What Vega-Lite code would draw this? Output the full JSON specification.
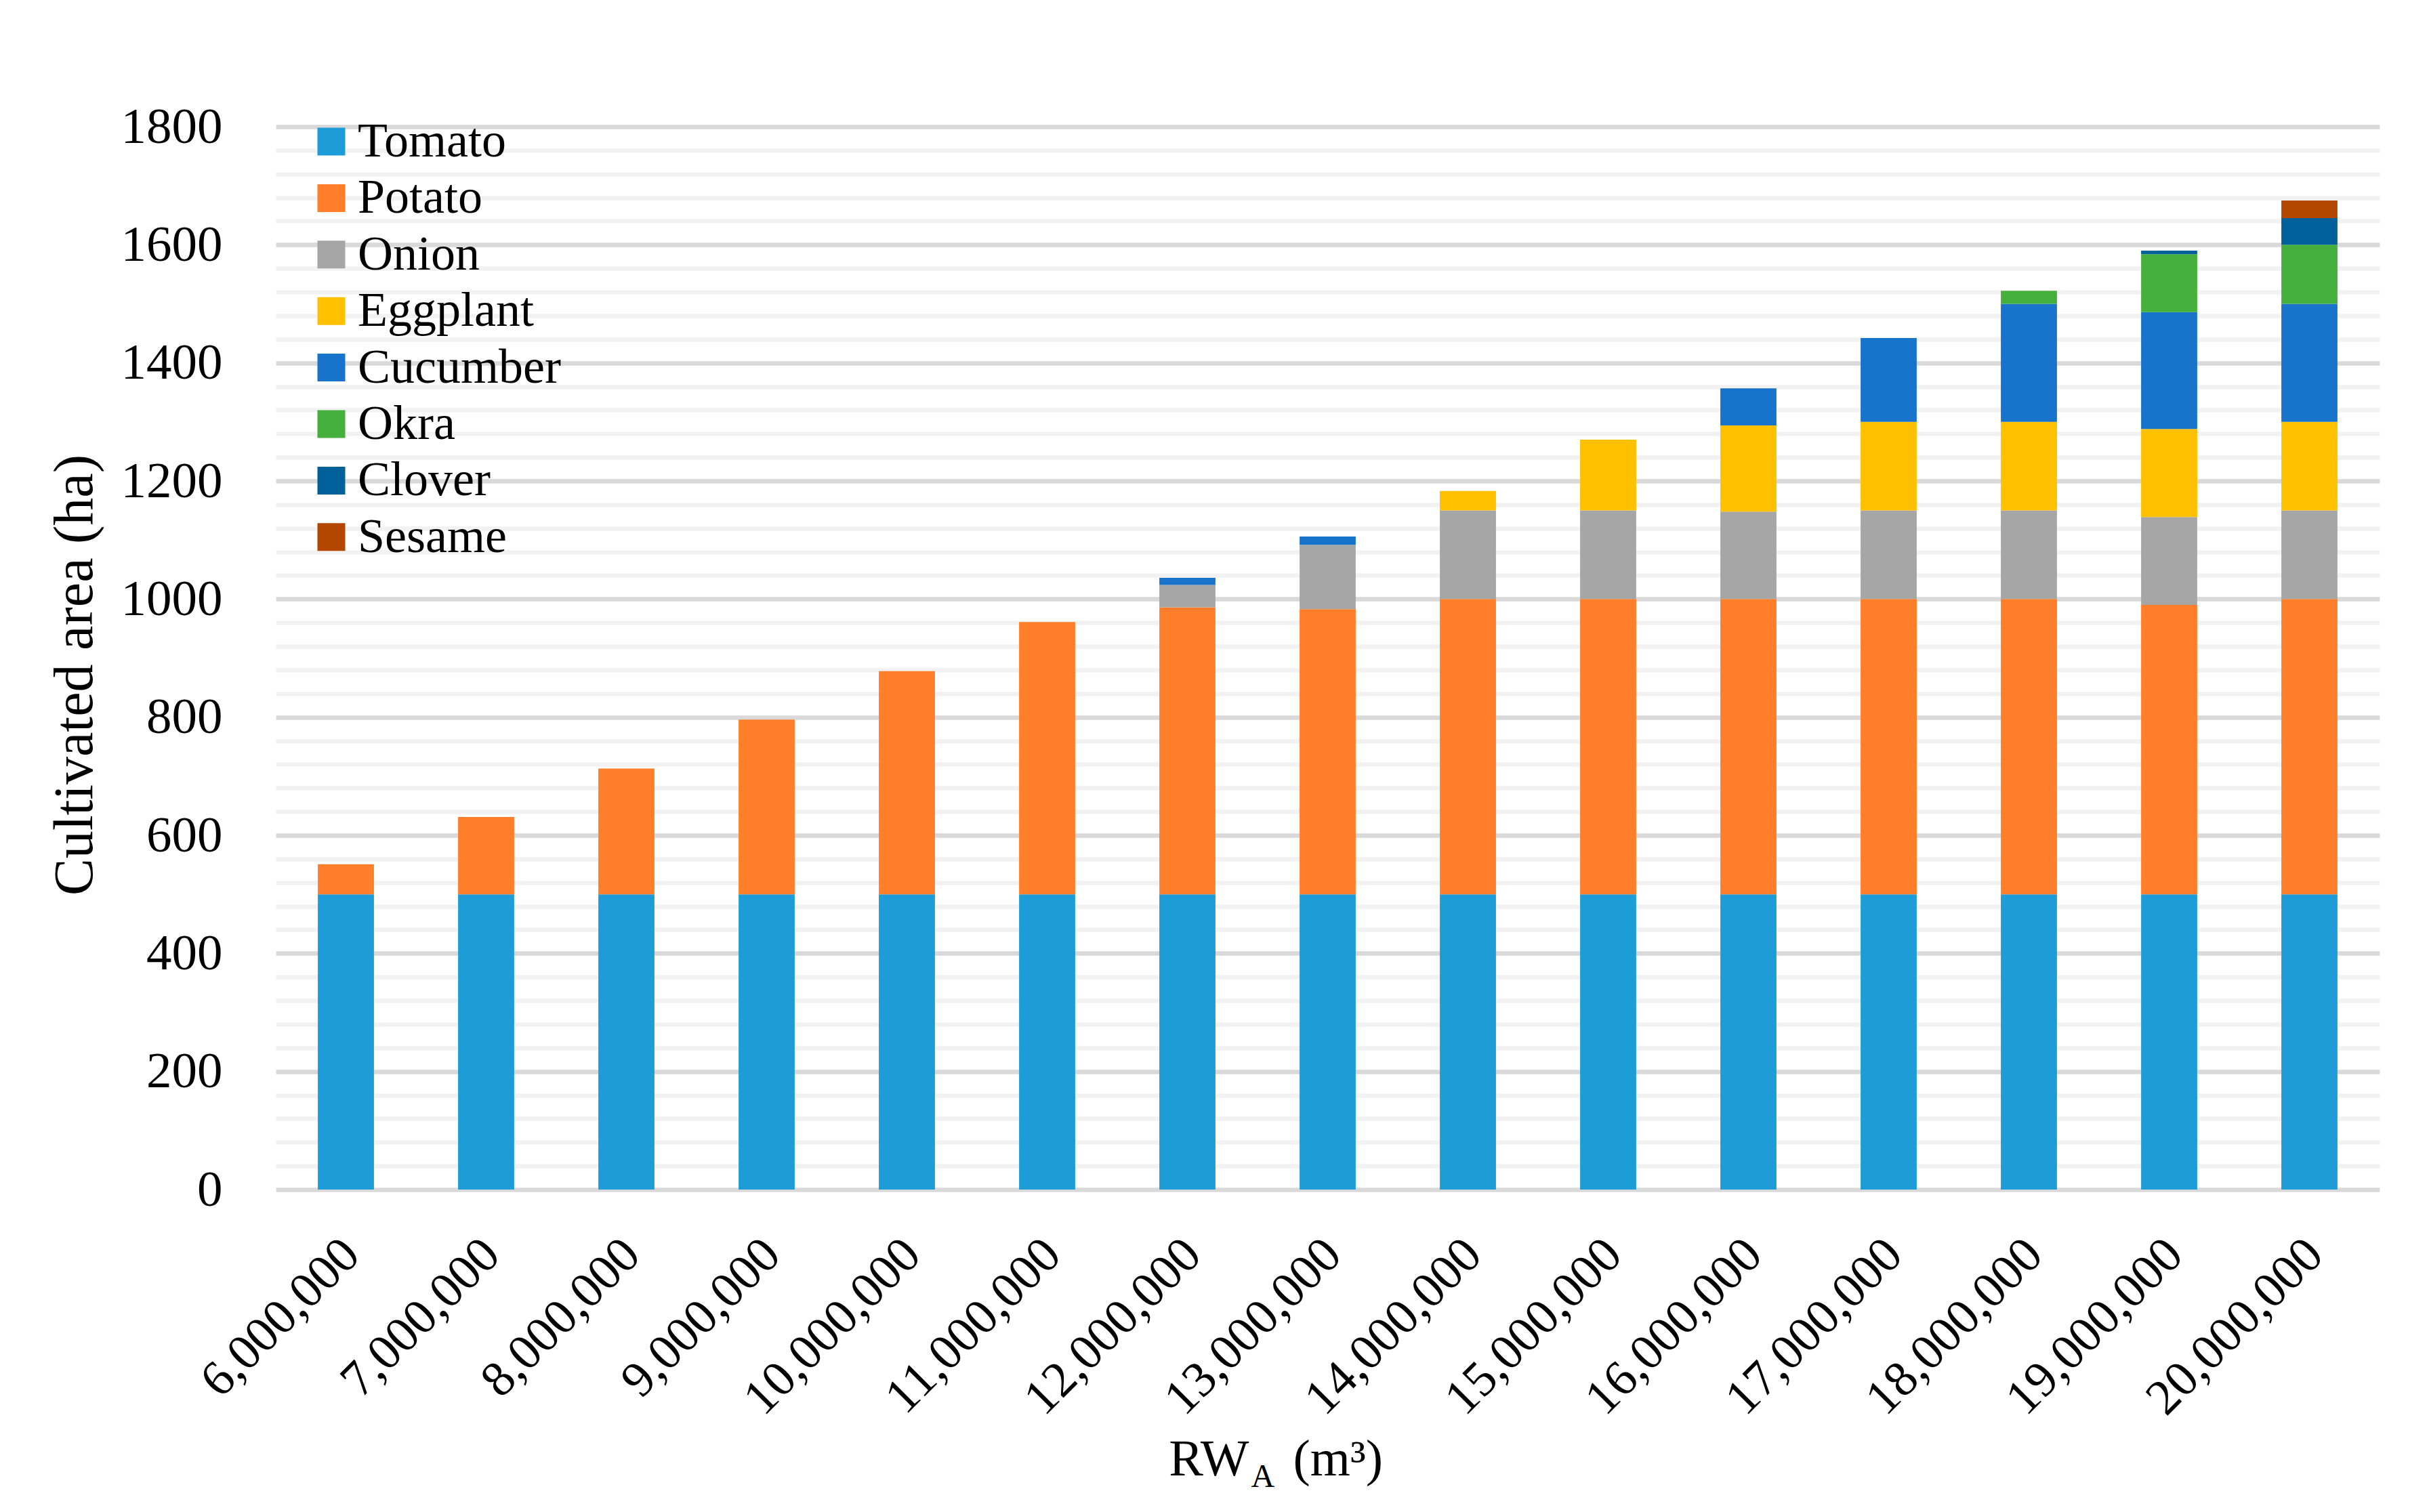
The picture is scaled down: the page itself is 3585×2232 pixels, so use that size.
{
  "$schema": "https://vega.github.io/schema/vega-lite/v6.json",
  "autosize": "none",
  "width": 3105,
  "height": 1569,
  "padding": {"left": 407, "top": 187, "right": 73, "bottom": 476},
  "background": "white",
  "config": {
    "font": "Liberation Serif",
    "view": {"stroke": null},
    "axis": {"labelColor": "black", "titleColor": "black", "titleFontWeight": "normal", "labelFont": "Liberation Serif", "titleFont": "Liberation Serif"}
  },
  "data": {
    "values": [
      {"rwa": 6000000, "crop": "Tomato", "k": 1, "area": 500},
      {"rwa": 6000000, "crop": "Potato", "k": 2, "area": 51},
      {"rwa": 7000000, "crop": "Tomato", "k": 1, "area": 500},
      {"rwa": 7000000, "crop": "Potato", "k": 2, "area": 131},
      {"rwa": 8000000, "crop": "Tomato", "k": 1, "area": 500},
      {"rwa": 8000000, "crop": "Potato", "k": 2, "area": 213},
      {"rwa": 9000000, "crop": "Tomato", "k": 1, "area": 500},
      {"rwa": 9000000, "crop": "Potato", "k": 2, "area": 296},
      {"rwa": 10000000, "crop": "Tomato", "k": 1, "area": 500},
      {"rwa": 10000000, "crop": "Potato", "k": 2, "area": 378},
      {"rwa": 11000000, "crop": "Tomato", "k": 1, "area": 500},
      {"rwa": 11000000, "crop": "Potato", "k": 2, "area": 461},
      {"rwa": 12000000, "crop": "Tomato", "k": 1, "area": 500},
      {"rwa": 12000000, "crop": "Potato", "k": 2, "area": 486},
      {"rwa": 12000000, "crop": "Onion", "k": 3, "area": 38},
      {"rwa": 12000000, "crop": "Cucumber", "k": 5, "area": 12},
      {"rwa": 13000000, "crop": "Tomato", "k": 1, "area": 500},
      {"rwa": 13000000, "crop": "Potato", "k": 2, "area": 483},
      {"rwa": 13000000, "crop": "Onion", "k": 3, "area": 109},
      {"rwa": 13000000, "crop": "Cucumber", "k": 5, "area": 14},
      {"rwa": 14000000, "crop": "Tomato", "k": 1, "area": 500},
      {"rwa": 14000000, "crop": "Potato", "k": 2, "area": 500},
      {"rwa": 14000000, "crop": "Onion", "k": 3, "area": 150},
      {"rwa": 14000000, "crop": "Eggplant", "k": 4, "area": 33},
      {"rwa": 15000000, "crop": "Tomato", "k": 1, "area": 500},
      {"rwa": 15000000, "crop": "Potato", "k": 2, "area": 500},
      {"rwa": 15000000, "crop": "Onion", "k": 3, "area": 150},
      {"rwa": 15000000, "crop": "Eggplant", "k": 4, "area": 120},
      {"rwa": 16000000, "crop": "Tomato", "k": 1, "area": 500},
      {"rwa": 16000000, "crop": "Potato", "k": 2, "area": 500},
      {"rwa": 16000000, "crop": "Onion", "k": 3, "area": 148},
      {"rwa": 16000000, "crop": "Eggplant", "k": 4, "area": 146},
      {"rwa": 16000000, "crop": "Cucumber", "k": 5, "area": 63},
      {"rwa": 17000000, "crop": "Tomato", "k": 1, "area": 500},
      {"rwa": 17000000, "crop": "Potato", "k": 2, "area": 500},
      {"rwa": 17000000, "crop": "Onion", "k": 3, "area": 150},
      {"rwa": 17000000, "crop": "Eggplant", "k": 4, "area": 150},
      {"rwa": 17000000, "crop": "Cucumber", "k": 5, "area": 142},
      {"rwa": 18000000, "crop": "Tomato", "k": 1, "area": 500},
      {"rwa": 18000000, "crop": "Potato", "k": 2, "area": 500},
      {"rwa": 18000000, "crop": "Onion", "k": 3, "area": 150},
      {"rwa": 18000000, "crop": "Eggplant", "k": 4, "area": 150},
      {"rwa": 18000000, "crop": "Cucumber", "k": 5, "area": 200},
      {"rwa": 18000000, "crop": "Okra", "k": 6, "area": 22},
      {"rwa": 19000000, "crop": "Tomato", "k": 1, "area": 500},
      {"rwa": 19000000, "crop": "Potato", "k": 2, "area": 490},
      {"rwa": 19000000, "crop": "Onion", "k": 3, "area": 149},
      {"rwa": 19000000, "crop": "Eggplant", "k": 4, "area": 149},
      {"rwa": 19000000, "crop": "Cucumber", "k": 5, "area": 198},
      {"rwa": 19000000, "crop": "Okra", "k": 6, "area": 98},
      {"rwa": 19000000, "crop": "Clover", "k": 7, "area": 6},
      {"rwa": 20000000, "crop": "Tomato", "k": 1, "area": 500},
      {"rwa": 20000000, "crop": "Potato", "k": 2, "area": 500},
      {"rwa": 20000000, "crop": "Onion", "k": 3, "area": 150},
      {"rwa": 20000000, "crop": "Eggplant", "k": 4, "area": 150},
      {"rwa": 20000000, "crop": "Cucumber", "k": 5, "area": 200},
      {"rwa": 20000000, "crop": "Okra", "k": 6, "area": 100},
      {"rwa": 20000000, "crop": "Clover", "k": 7, "area": 45},
      {"rwa": 20000000, "crop": "Sesame", "k": 8, "area": 30}
    ]
  },
  "layer": [
    {
      "mark": {"type": "bar"},
      "encoding": {
        "x": {
          "field": "rwa", "type": "ordinal",
          "scale": {"paddingInner": 0.6, "paddingOuter": 0.3},
          "axis": {
            "orient": "bottom",
            "title": "RW",
            "titleX": 1436, "titleY": 421, "titleAlign": "right", "titleBaseline": "alphabetic",
            "titleFontSize": 76, "titleAnchor": null,
            "labelExpr": "format(datum.value, ',')",
            "labelAngle": -45, "labelAlign": "right", "labelBaseline": "top",
            "labelFontSize": 74, "labelPadding": 59, "labelOffset": -17, "labelLimit": 0,
            "ticks": false, "domain": false, "grid": false, "labelOverlap": false
          }
        },
        "y": {
          "field": "area", "type": "quantitative", "stack": "zero",
          "scale": {"domain": [0, 1800], "nice": false},
          "axis": {
            "values": [0,40,80,120,160,200,240,280,320,360,400,440,480,520,560,600,640,680,720,760,800,840,880,920,960,1000,1040,1080,1120,1160,1200,1240,1280,1320,1360,1400,1440,1480,1520,1560,1600,1640,1680,1720,1760,1800],
            "format": "d",
            "labelExpr": "datum.value % 200 === 0 ? datum.label : ''",
            "gridColor": {"condition": {"test": "datum.value % 200 === 0", "value": "#D9D9D9"}, "value": "#F2F2F2"},
            "gridWidth": 6.5,
            "domain": false, "ticks": false,
            "labelPadding": 79, "labelFontSize": 75, "labelOverlap": false,
            "title": "Cultivated area (ha)", "titleFontSize": 82,
            "titleX": -272, "titleY": 809, "titleAngle": -90, "titleAlign": "center", "titleBaseline": "alphabetic"
          }
        },
        "color": {
          "field": "crop", "type": "nominal",
          "scale": {
            "domain": ["Tomato", "Potato", "Onion", "Eggplant", "Cucumber", "Okra", "Clover", "Sesame"],
            "range": ["#1E9CD8", "#FF7E29", "#A6A6A6", "#FFC000", "#1874CB", "#45B03D", "#00609A", "#B44700"]
          },
          "legend": {
            "orient": "none", "legendX": 46, "legendY": -14, "title": null,
            "symbolType": "square", "symbolSize": 1681, "symbolStrokeWidth": 0,
            "labelFontSize": 72, "labelFont": "Liberation Serif", "labelColor": "black",
            "rowPadding": 11.4, "labelOffset": 3, "padding": 0, "labelLimit": 0
          }
        },
        "order": {"field": "k", "type": "quantitative", "sort": "ascending"}
      }
    },
    {
      "mark": {"type": "rule", "opacity": 0},
      "encoding": {
        "x": {
          "field": "rwa", "type": "ordinal",
          "axis": {
            "orient": "bottom", "labels": false, "ticks": false, "domain": false, "grid": false,
            "title": "A", "titleX": 1439, "titleY": 438, "titleAlign": "left", "titleBaseline": "alphabetic",
            "titleFontSize": 48, "titleAnchor": null
          }
        }
      }
    },
    {
      "mark": {"type": "rule", "opacity": 0},
      "encoding": {
        "x": {
          "field": "rwa", "type": "ordinal",
          "axis": {
            "orient": "bottom", "labels": false, "ticks": false, "domain": false, "grid": false,
            "title": "(m³)", "titleX": 1501, "titleY": 421, "titleAlign": "left", "titleBaseline": "alphabetic",
            "titleFontSize": 76, "titleAnchor": null
          }
        }
      }
    }
  ],
  "resolve": {"axis": {"x": "independent"}}
}
